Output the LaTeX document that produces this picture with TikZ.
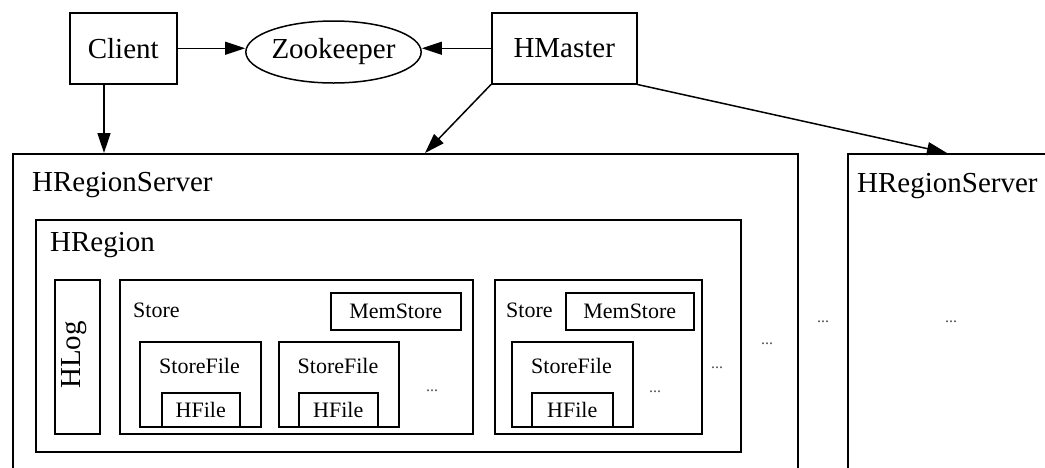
\documentclass[tikz,border=0pt]{standalone}
\usepackage{fontspec}
\setmainfont{Liberation Serif}
\usetikzlibrary{arrows.meta,shapes.geometric}
\begin{document}
\begin{tikzpicture}[x=1pt,y=-1pt,
  big/.style={font=\fontsize{29}{31}\selectfont},
  small/.style={font=\fontsize{22}{24}\selectfont},
  box/.style={draw, line width=1.5pt, inner sep=0pt, anchor=north west},
  lbl/.style={inner sep=0pt},
  dots/.style={inner sep=0pt, text=black!70, font=\fontsize{16}{17}\selectfont},
  arr/.style={line width=1.5pt, -{Triangle[length=20pt,width=13pt]}}]
\useasboundingbox (0,0) rectangle (1045,467);
% top row
\node[box, big, minimum width=107pt, minimum height=71pt] (client) at (69,12) {Client};
\node[draw, line width=1.5pt, ellipse, inner sep=0pt, minimum width=175pt, minimum height=62pt, big] (zk) at (333.5,52) {Zookeeper};
\node[box, big, minimum width=145pt, minimum height=71pt] (hmaster) at (491,12) {HMaster};
% servers
\node[box, minimum width=785pt, minimum height=330pt] (server1) at (12,153) {};
\node[lbl, big, anchor=base west] (server1lbl) at (32,191) {HRegionServer};
\node[box, minimum width=250pt, minimum height=330pt] (server2) at (847,153) {};
\node[lbl, big, anchor=base west] (server2lbl) at (857,192) {HRegionServer};
\node[dots] (dots6) at (951,322) {...};
\node[dots] (dots5) at (823,322) {...};
% region
\node[box, minimum width=705pt, minimum height=232pt] (region) at (35,219) {};
\node[lbl, big, anchor=base west] (regionlbl) at (50,251) {HRegion};
\node[box, minimum width=45pt, minimum height=154pt] (hlog) at (54,279) {};
\node[lbl, big, rotate=90] (hloglbl) at (74,355) {HLog};
% store 1
\node[box, minimum width=353pt, minimum height=154pt] (store1) at (119,279) {};
\node[lbl, small, anchor=base west] (store1lbl) at (133,317) {Store};
\node[box, small, minimum width=130pt, minimum height=37pt] (mem1) at (330,292) {MemStore};
\node[box, minimum width=121pt, minimum height=85pt] (sf1) at (139,341) {};
\node[lbl, small, anchor=base] (sf1lbl) at (199.5,373) {StoreFile};
\node[box, small, minimum width=78pt, minimum height=34pt] (hf1) at (161,392) {HFile};
\node[box, minimum width=120pt, minimum height=85pt] (sf2) at (278,341) {};
\node[lbl, small, anchor=base] (sf2lbl) at (338,373) {StoreFile};
\node[box, small, minimum width=79pt, minimum height=34pt] (hf2) at (298,392) {HFile};
\node[dots] (dots1) at (432,391) {...};
% store 2
\node[box, minimum width=207pt, minimum height=154pt] (store2) at (494,279) {};
\node[lbl, small, anchor=base west] (store2lbl) at (506,317) {Store};
\node[box, small, minimum width=128pt, minimum height=37pt] (mem2) at (565,292) {MemStore};
\node[box, minimum width=121pt, minimum height=85pt] (sf3) at (511,341) {};
\node[lbl, small, anchor=base] (sf3lbl) at (571.5,373) {StoreFile};
\node[box, small, minimum width=81pt, minimum height=34pt] (hf3) at (531,392) {HFile};
\node[dots] (dots2) at (655,392) {...};
\node[dots] (dots3) at (717,368) {...};
\node[dots] (dots4) at (767,344) {...};
% connectors
\draw[arr] (client.east) -- (client.east -| zk.west);
\draw[arr] (hmaster.west) -- (hmaster.west -| zk.east);
\draw[arr] ([xshift=35pt]client.south west) -- ([xshift=35pt]client.south west |- server1.north);
\draw[arr] (hmaster.south west) -- ([xshift=413pt]server1.north west);
\draw[arr] (hmaster.south east) -- ([xshift=100pt]server2.north west);
\end{tikzpicture}
\end{document}
